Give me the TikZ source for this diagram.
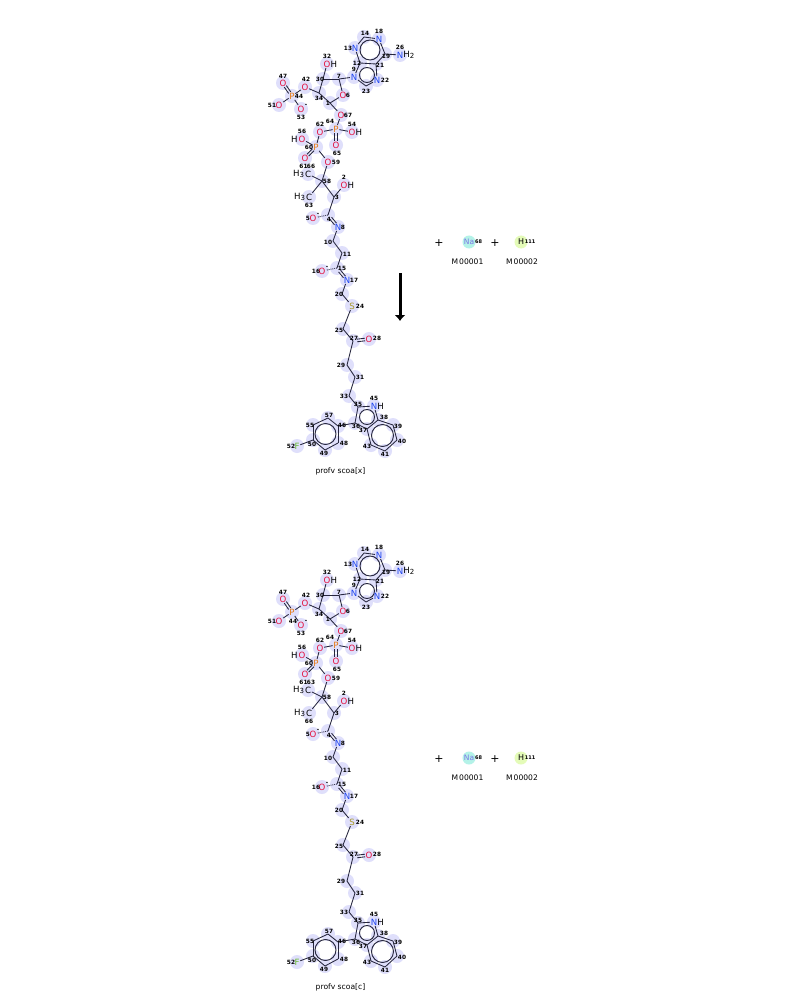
\documentclass[tikz,border=0pt]{standalone}
\usepackage{fontspec}
\setmainfont{DejaVu Sans}
\usetikzlibrary{calc,arrows.meta}
\pgfdeclarelayer{halolayer}
\pgfdeclarelayer{bondlayer}
\pgfsetlayers{halolayer,bondlayer,main}
\definecolor{halocol}{HTML}{DFDFFB}
\definecolor{bondcol}{HTML}{26263E}
\definecolor{ocol}{HTML}{E4103F}
\definecolor{ncol}{HTML}{1F45F0}
\definecolor{pcol}{HTML}{E67810}
\definecolor{fcol}{HTML}{66BA30}
\definecolor{scol}{HTML}{A89828}
\definecolor{nacol}{HTML}{7C76E6}
\definecolor{nahalo}{HTML}{B4F2E8}
\definecolor{hhalo}{HTML}{E4FBB8}
\tikzset{
  atomtext/.style={inner sep=0.6pt,font=\fontsize{8.6}{9}\selectfont},
  oxy/.style={atomtext,text=ocol},
  nit/.style={atomtext,text=ncol},
  pho/.style={atomtext,text=pcol},
  flu/.style={atomtext,text=fcol},
  sul/.style={atomtext,text=scol},
  blk/.style={atomtext,text=black},
  hatom/.style={atomtext,text=black,anchor=west,inner sep=0pt,xshift=-0.8pt},
  hleft/.style={atomtext,text=black,anchor=east,inner sep=0pt},
  numlab/.style={inner sep=0pt,font=\fontsize{5.8}{6}\selectfont\bfseries,text=black},
  smalllab/.style={inner sep=0pt,font=\fontsize{5}{6}\selectfont\bfseries,text=black},
  caption/.style={inner sep=0pt,font=\fontsize{7.6}{8}\selectfont,text=black},
  plus/.style={inner sep=0pt,font=\fontsize{11}{11}\selectfont,text=black},
  bond/.style={draw=bondcol,line width=0.85pt},
  ring/.style={draw=bondcol,line width=0.95pt},
  dotbond/.style={draw=bondcol,line width=0.9pt,densely dotted},
  bigarrow/.style={draw=black,line width=3pt,-{Latex[length=6pt,width=11pt]}}
}
\newcommand{\atomnode}[5]{%
  \begin{pgfonlayer}{halolayer}\fill[halocol] (#2,#3) circle (7pt);\end{pgfonlayer}%
  \node[#4] (#1) at (#2,#3) {#5};}
\newcommand{\cnode}[3]{%
  \begin{pgfonlayer}{halolayer}\fill[halocol] (#2,#3) circle (7pt);\end{pgfonlayer}%
  \coordinate (#1) at (#2,#3);}
\newcommand{\lab}[3]{\node[numlab] (lab#3x#1) at (#1,#2) {#3};}
\newcommand{\lowd}[1]{\raisebox{-1.6pt}{\fontsize{7}{7}\selectfont #1}}
\newcommand{\sbond}[2]{\begin{pgfonlayer}{bondlayer}\draw[bond] (#1) -- (#2);\end{pgfonlayer}}
\newcommand{\dbond}[2]{\begin{pgfonlayer}{bondlayer}
  \draw[bond,shorten <=4pt,shorten >=4pt] ($(#1)!1.3pt!90:(#2)$) -- ($(#2)!1.3pt!-90:(#1)$);
  \draw[bond,shorten <=4pt,shorten >=4pt] ($(#1)!1.3pt!-90:(#2)$) -- ($(#2)!1.3pt!90:(#1)$);
  \end{pgfonlayer}}
\newcommand{\dotb}[2]{\begin{pgfonlayer}{bondlayer}\draw[dotbond] (#1) -- (#2);\end{pgfonlayer}}
\newcommand{\arring}[4]{\coordinate (#1) at (#2,#3);\begin{pgfonlayer}{bondlayer}\draw[ring] (#1) circle (#4pt);\end{pgfonlayer}}
\newcommand{\molecule}{%
  \atomnode{a13}{355}{48}{nit}{N}
  \cnode{a14}{364}{37}
  \atomnode{a18}{379}{39}{nit}{N}
  \cnode{a19}{385}{54}
  \cnode{a21}{376}{64}
  \cnode{a12}{360}{63}
  \atomnode{a9}{354}{77}{nit}{N}
  \atomnode{a22}{377}{80}{nit}{N}
  \cnode{a23}{366}{86}
  \atomnode{a26}{400}{55}{nit}{N}
  \node[hatom] (a26h) at (a26.east) {H\lowd{2}};
  \cnode{a7}{339}{79}
  \cnode{a30}{323}{79}
  \cnode{a34}{319}{93}
  \cnode{a1}{330}{103}
  \atomnode{a6}{343}{95}{oxy}{O}
  \atomnode{a32}{327}{64}{oxy}{O}
  \node[hatom] (a32h) at (a32.east) {H};
  \atomnode{a42}{305}{87}{oxy}{O}
  \atomnode{a44}{292}{96}{pho}{P}
  \atomnode{a47}{283}{83}{oxy}{O}
  \atomnode{a51}{279}{105}{oxy}{O}
  \atomnode{a53}{301}{109}{oxy}{O}
  \atomnode{a67}{341}{115}{oxy}{O}
  \atomnode{a64}{336}{129}{pho}{P}
  \atomnode{a54}{352}{132}{oxy}{O}
  \node[hatom] (a54h) at (a54.east) {H};
  \atomnode{a65}{336}{145}{oxy}{O}
  \atomnode{a62}{320}{132}{oxy}{O}
  \atomnode{a56}{302}{139}{oxy}{O}
  \node[hleft] (a56h) at (a56.west) {H};
  \atomnode{a60}{316}{147}{pho}{P}
  \atomnode{a61}{305}{158}{oxy}{O}
  \atomnode{a59}{328}{162}{oxy}{O}
  \atomnode{a66}{308}{174}{blk}{C}
  \node[hleft] (a66h) at (a66.west) {H\lowd{3}};
  \cnode{a58}{322}{181}
  \atomnode{a63}{309}{197}{blk}{C}
  \node[hleft] (a63h) at (a63.west) {H\lowd{3}};
  \cnode{a3}{334}{197}
  \atomnode{a2}{344}{185}{oxy}{O}
  \node[hatom] (a2h) at (a2.east) {H};
  \cnode{a4}{328}{215}
  \atomnode{a5}{313}{218}{oxy}{O}
  \atomnode{a8}{338}{227}{nit}{N}
  \cnode{a10}{333}{241}
  \cnode{a11}{342}{253}
  \cnode{a15}{337}{268}
  \atomnode{a16}{322}{271}{oxy}{O}
  \atomnode{a17}{347}{280}{nit}{N}
  \cnode{a20}{342}{294}
  \atomnode{a24}{352}{306}{sul}{S}
  \cnode{a25}{343}{329}
  \cnode{a27}{353}{341}
  \atomnode{a28}{369}{339}{oxy}{O}
  \cnode{a29}{347}{365}
  \cnode{a31}{355}{377}
  \cnode{a33}{349}{396}
  \cnode{a35}{358}{407}
  \atomnode{a45}{374}{406}{nit}{N}
  \node[hatom] (a45h) at (a45.east) {H};
  \cnode{a38}{378}{420}
  \cnode{a37}{367}{429}
  \cnode{a36}{355}{423}
  \cnode{a46}{338}{426}
  \cnode{a57}{328}{418}
  \cnode{a55}{313}{425}
  \cnode{a50}{313}{440}
  \cnode{a49}{325}{450}
  \cnode{a48}{338}{443}
  \atomnode{a52}{297}{446}{flu}{F}
  \cnode{a39}{393}{425}
  \cnode{a40}{397}{440}
  \cnode{a41}{385}{451}
  \cnode{a43}{371}{445}
  \sbond{a13}{a14}\sbond{a14}{a18}\sbond{a18}{a19}\sbond{a19}{a21}\sbond{a21}{a12}\sbond{a12}{a13}
  \sbond{a12}{a9}\sbond{a9}{a23}\sbond{a23}{a22}\sbond{a22}{a21}\sbond{a19}{a26}
  \sbond{a9}{a7}\sbond{a7}{a30}\sbond{a30}{a34}\sbond{a34}{a1}\sbond{a1}{a6}\sbond{a6}{a7}
  \sbond{a30}{a32}\sbond{a34}{a42}\sbond{a42}{a44}\dbond{a44}{a47}\sbond{a44}{a51}\sbond{a44}{a53}
  \sbond{a1}{a67}\sbond{a67}{a64}\sbond{a64}{a54}\dbond{a64}{a65}\sbond{a64}{a62}\sbond{a62}{a60}
  \sbond{a60}{a56}\dbond{a60}{a61}\sbond{a60}{a59}\sbond{a59}{a58}\sbond{a58}{a66}\sbond{a58}{a63}
  \sbond{a58}{a3}\sbond{a3}{a2}\sbond{a3}{a4}\dotb{a4}{a5}\dbond{a4}{a8}\sbond{a8}{a10}
  \sbond{a10}{a11}\sbond{a11}{a15}\dotb{a15}{a16}\dbond{a15}{a17}\sbond{a17}{a20}\sbond{a20}{a24}
  \sbond{a24}{a25}\sbond{a25}{a27}\dbond{a27}{a28}\sbond{a27}{a29}\sbond{a29}{a31}\sbond{a31}{a33}
  \sbond{a33}{a35}\sbond{a35}{a45}\sbond{a45}{a38}\sbond{a38}{a37}\sbond{a37}{a36}\sbond{a36}{a35}
  \sbond{a36}{a46}\sbond{a46}{a57}\sbond{a57}{a55}\sbond{a55}{a50}\sbond{a50}{a49}\sbond{a49}{a48}
  \sbond{a48}{a46}\sbond{a50}{a52}\sbond{a38}{a39}\sbond{a39}{a40}\sbond{a40}{a41}\sbond{a41}{a43}\sbond{a43}{a37}
  \arring{r1}{370}{50}{10}
  \arring{r2}{367}{75}{7.5}
  \arring{r3}{367}{417}{7.5}
  \arring{r4}{325.5}{434}{10.5}
  \arring{r5}{382.5}{435.5}{11}
  \node[numlab] (m5) at (318,214) {-};
  \node[numlab] (m16) at (327,267) {-};
  \node[numlab] (m53) at (306,105) {-};
  \lab{365}{33}{14}\lab{379}{31}{18}\lab{348}{48}{13}\lab{386}{56}{19}\lab{400}{47}{26}
  \lab{357}{63}{12}\lab{354}{69}{9}\lab{380}{65}{21}\lab{385}{80}{22}\lab{366}{91}{23}
  \lab{327}{56}{32}\lab{320}{79}{30}\lab{339}{76}{7}\lab{319}{98}{34}\lab{328}{103}{1}
  \lab{348}{95}{6}\lab{306}{79}{42}\lab{283}{76}{47}\lab{272}{105}{51}\lab{301}{117}{53}
  \lab{348}{115}{67}\lab{320}{124}{62}\lab{330}{121}{64}\lab{352}{124}{54}\lab{302}{131}{56}
  \lab{337}{153}{65}\lab{309}{147}{60}\lab{336}{162}{59}\lab{327}{181}{58}
  \lab{344}{177}{2}\lab{337}{197}{3}\lab{308}{218}{5}\lab{329}{219}{4}\lab{343}{227}{8}
  \lab{328}{242}{10}\lab{347}{254}{11}\lab{342}{268}{15}\lab{316}{271}{16}\lab{354}{280}{17}
  \lab{339}{294}{20}\lab{360}{306}{24}\lab{339}{330}{25}\lab{354}{338}{27}\lab{377}{338}{28}
  \lab{341}{365}{29}\lab{360}{377}{31}\lab{344}{396}{33}\lab{358}{404}{35}\lab{374}{398}{45}
  \lab{384}{417}{38}\lab{398}{426}{39}\lab{402}{441}{40}\lab{385}{454}{41}\lab{367}{446}{43}
  \lab{363}{430}{37}\lab{356}{426}{36}\lab{342}{425}{46}\lab{329}{415}{57}\lab{310}{425}{55}
  \lab{312}{444}{50}\lab{324}{453}{49}\lab{344}{443}{48}\lab{291}{446}{52}
  \lab{303.5}{166}{61}
  \node[plus] (pl1) at (439,243) {+};
  \node[plus] (pl2) at (495,243) {+};
  \begin{pgfonlayer}{halolayer}
    \fill[nahalo] (469,242) circle (6.5pt);
    \fill[hhalo] (521,242) circle (6.5pt);
  \end{pgfonlayer}
  \node[atomtext,text=nacol,font=\fontsize{7.5}{8}\selectfont] (na) at (469,242) {Na};
  \node[smalllab] (na68) at (478.5,241.5) {68};
  \node[atomtext,font=\fontsize{8}{8}\selectfont] (hyd) at (521,242) {H};
  \node[smalllab] (h111) at (530,241.5) {111};
  \node[caption] (m1) at (467.5,262) {M\kern1pt 00001};
  \node[caption] (m2) at (522,262) {M\kern1pt 00002};
}
\begin{document}
\begin{tikzpicture}[x=1pt,y=-1pt]
\path[use as bounding box] (0,0) rectangle (800,1000);
\begin{pgfonlayer}{halolayer}\fill[white] (0,0) rectangle (800,1000);\end{pgfonlayer}
\begin{scope}[name prefix=t-]
  \molecule
  \lab{299}{96}{44}\lab{309}{205}{63}\lab{311}{166}{66}
  \node[caption] (cap) at (340.5,471.5) {profv scoa[x]};
\end{scope}
\coordinate (arrowstart) at (400,273);
\coordinate (arrowend) at (400,321);
\draw[bigarrow] (arrowstart) -- (arrowend);
\begin{scope}[yshift=-516pt,name prefix=b-]
  \molecule
  \lab{293}{105}{44}\lab{309}{205}{66}\lab{311}{166}{63}
  \node[caption] (cap) at (340.5,471.5) {profv scoa[c]};
\end{scope}
\end{tikzpicture}
\end{document}
